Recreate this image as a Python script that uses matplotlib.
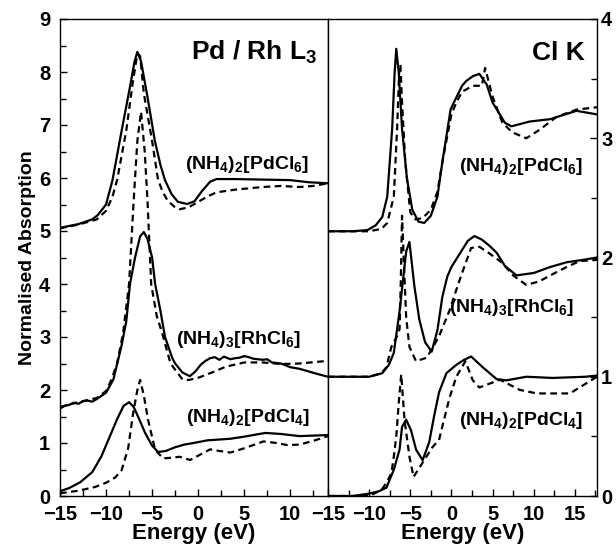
import numpy as np
import matplotlib
matplotlib.use("Agg")
import matplotlib.pyplot as plt
from matplotlib.ticker import MultipleLocator

plt.rcParams["font.family"] = ["Liberation Sans", "DejaVu Sans"]
plt.rcParams["font.weight"] = "bold"
plt.rcParams["mathtext.fontset"] = "custom"
plt.rcParams["mathtext.rm"] = "Liberation Sans:bold"
plt.rcParams["mathtext.default"] = "rm"

# ---- Pd / Rh L3 edge (left panel) ----
l_pd6_exp_e = [-15, -13, -11.5, -10.9, -10, -9.3, -8.3, -7.4, -6.9, -6.6, -6.2, -5.5, -4.7,
               -4.1, -3.6, -2.9, -2.2, -1.2, -0.4, 0.4, 1.3, 2, 4, 7, 10, 12, 14.1]
l_pd6_exp_a = [5.06, 5.13, 5.22, 5.3, 5.5, 5.96, 6.9, 7.72, 8.2, 8.38, 8.2, 7.53, 6.7,
               6.25, 5.96, 5.7, 5.55, 5.51, 5.56, 5.75, 5.93, 5.98, 5.98, 5.97, 5.96, 5.92, 5.9]
l_pd6_th_e = [-15, -13, -11, -10, -9.3, -8.8, -7.8, -7.1, -6.6, -6.3, -5.9, -5.0, -4.35,
              -3.8, -3.3, -2.6, -2.0, -1, 0, 1, 2, 4, 7, 9, 11, 12.5, 14.1]
l_pd6_th_a = [5.05, 5.12, 5.22, 5.38, 5.65, 5.96, 6.9, 7.8, 8.35, 8.3, 7.6, 6.7, 5.96,
              5.72, 5.57, 5.46, 5.41, 5.45, 5.55, 5.65, 5.73, 5.78, 5.83, 5.85, 5.83, 5.85, 5.9]

l_rh6_exp_e = [-15, -14.5, -14, -13.5, -13, -12.5, -12, -11.5, -11, -10, -9.2, -8.3, -7.8,
               -7.4, -6.85, -6.3, -5.9, -5.5, -5.0, -4.67, -4.1, -3.6, -2.8, -2.5, -1.7,
               -0.9, -0.3, 0.3, 0.8, 1.3, 1.8, 2.3, 2.8, 3.5, 4.0, 4.5, 5.0, 5.5, 6.0, 7,
               7.5, 8, 9, 10, 11, 12, 13, 14.1]
l_rh6_exp_a = [1.65, 1.7, 1.72, 1.76, 1.74, 1.79, 1.8, 1.78, 1.83, 1.95, 2.2, 2.85, 3.3,
               4.0, 4.5, 4.9, 4.98, 4.85, 4.5, 4.0, 3.5, 3.0, 2.6, 2.5, 2.33,
               2.26, 2.35, 2.48, 2.55, 2.6, 2.62, 2.57, 2.63, 2.58, 2.6, 2.61, 2.64, 2.62, 2.59,
               2.57, 2.58, 2.52, 2.5, 2.43, 2.4, 2.35, 2.3, 2.25]
l_rh6_th_e = [-15, -13, -11, -10, -9.4, -8.8, -8.15, -7.5, -7.0, -6.6, -6.2, -5.8, -5.5,
              -5.1, -4.5, -3.9, -3.0, -1.7, -1.0, 0, 1.5, 3, 5, 7, 9, 11, 14.1]
l_rh6_th_a = [1.68, 1.77, 1.85, 1.98, 2.2, 2.5, 3.07, 4.0, 5.58, 6.7, 7.25, 6.5, 5.58,
              4.0, 3.4, 3.07, 2.5, 2.2, 2.19, 2.23, 2.33, 2.44, 2.52, 2.52, 2.49, 2.5, 2.55]

l_pd4_exp_e = [-15, -14, -12.8, -11.5, -10.5, -9.6, -8.8, -8.1, -7.5, -7.0, -6.4, -5.76,
               -5.0, -4.35, -3.5, -2.5, -1.5, -0.5, 1, 3.5, 5, 7.3, 9, 11, 14.1]
l_pd4_exp_a = [0.09, 0.15, 0.26, 0.45, 0.75, 1.12, 1.45, 1.7, 1.77, 1.68, 1.45, 1.19,
               0.95, 0.83, 0.85, 0.92, 0.97, 1.0, 1.05, 1.08, 1.12, 1.19, 1.17, 1.13, 1.15]
l_pd4_th_e = [-15, -13, -11.2, -10, -9, -8.3, -7.6, -7.06, -6.6, -6.3, -5.9, -5.43, -4.67,
              -3.8, -3.0, -2.0, -0.87, 0, 1.3, 2.3, 3.5, 5, 7.1, 8.5, 9.7, 11, 12.5, 14.1]
l_pd4_th_a = [0.05, 0.1, 0.17, 0.25, 0.35, 0.49, 0.9, 1.56, 2.0, 2.19, 1.9, 1.43, 0.87,
              0.71, 0.72, 0.74, 0.68, 0.76, 0.88, 0.85, 0.82, 0.9, 1.03, 1.0, 0.96, 0.97,
              1.04, 1.13]

# ---- Cl K edge (right panel) ----
r_pd6_exp_e = [-15, -12, -10.2, -9.2, -8.4, -7.8, -7.2, -6.9, -6.7, -6.4, -6.0, -5.4, -4.75,
               -4.0, -3.3, -2.5, -1.7, -1.1, -0.1, 0.3, 1.3, 1.8, 2.6, 3.4, 4.3, 5.0, 6.5,
               7.3, 9.5, 12, 15.2, 17.7]
r_pd6_exp_a = [2.22, 2.22, 2.23, 2.27, 2.34, 2.51, 3.08, 3.55, 3.75, 3.55, 3.08, 2.66, 2.4,
               2.3, 2.29, 2.35, 2.51, 2.8, 3.24, 3.3, 3.44, 3.48, 3.52, 3.54, 3.45, 3.3, 3.13,
               3.1, 3.14, 3.16, 3.23, 3.2]
r_pd6_th_e = [-15, -10, -8.5, -7.8, -7.0, -6.6, -6.35, -6.2, -6.0, -5.6, -5.0, -4.4, -3.5,
              -2.5, -1.7, -1.1, 0, 0.6, 1.3, 2.6, 3.7, 4.1, 5.0, 6.2, 7.4, 9.1, 10.7, 12.8,
              15.2, 17.7]
r_pd6_th_a = [2.22, 2.22, 2.24, 2.29, 2.51, 3.08, 3.55, 3.62, 3.3, 2.8, 2.38, 2.32, 2.33,
              2.4, 2.55, 2.8, 3.2, 3.3, 3.39, 3.44, 3.44, 3.59, 3.35, 3.13, 3.05, 3.0, 3.07,
              3.18, 3.24, 3.26]

r_rh6_exp_e = [-15, -10, -8.4, -7.6, -7.0, -6.6, -6.3, -5.9, -5.5, -5.1, -4.5, -3.9, -3.2,
               -2.4, -1.7, -1.1, -0.5, 0, 1.0, 2.0, 2.8, 3.7, 4.6, 5.5, 6.5, 7.9, 10, 12, 14,
               16, 17.7]
r_rh6_exp_a = [1.0, 1.0, 1.03, 1.1, 1.2, 1.4, 1.55, 1.8, 2.05, 2.13, 1.76, 1.48, 1.29,
               1.21, 1.39, 1.67, 1.84, 1.92, 2.03, 2.14, 2.18, 2.15, 2.1, 2.04, 1.93, 1.85,
               1.87, 1.92, 1.96, 1.98, 2.0]
r_rh6_th_e = [-15, -10, -8.5, -7.9, -7.3, -6.6, -6.3, -6.15, -6.0, -5.8, -5.5, -5.1, -4.3,
              -3.0, -2.3, -1.5, -0.2, 0.6, 1.3, 2.4, 3.4, 4.5, 6.1, 7.5, 9.1, 10.7, 12.3,
              14, 15.6, 17.7]
r_rh6_th_a = [1.0, 1.0, 1.03, 1.08, 1.25, 1.34, 1.4, 1.8, 2.35, 2.0, 1.5, 1.25, 1.13,
              1.16, 1.24, 1.34, 1.56, 1.73, 1.87, 2.08, 2.09, 2.04, 1.96, 1.85, 1.77, 1.8,
              1.86, 1.92, 1.97, 1.98]

r_pd4_exp_e = [-15, -12, -10, -8.8, -7.9, -7.0, -6.3, -6.0, -5.5, -4.9, -4.3, -3.5, -2.7,
               -2.1, -1.5, -0.6, 0.6, 1.5, 2.4, 3.8, 5.5, 6.7, 9.1, 12.3, 16.3, 17.7]
r_pd4_exp_a = [0.0, 0.0, 0.02, 0.04, 0.07, 0.22, 0.39, 0.58, 0.64, 0.55, 0.39, 0.3, 0.45,
               0.67, 0.87, 1.03, 1.1, 1.14, 1.17, 1.08, 0.98, 0.97, 1.0, 0.99, 1.0, 1.01]
r_pd4_th_e = [-15, -10, -8.5, -7.9, -7.3, -7.0, -6.7, -6.4, -6.1, -5.7, -5.1, -4.6, -3.5,
              -2.3, -1.5, -0.9, -0.2, 0.6, 1.7, 2.6, 3.4, 5.9, 8.3, 10.4, 14.4, 17.7]
r_pd4_th_a = [0.0, 0.0, 0.05, 0.11, 0.19, 0.33, 0.5, 0.78, 1.02, 0.64, 0.33, 0.16, 0.28,
              0.41, 0.47, 0.64, 0.83, 1.0, 1.13, 0.97, 0.91, 0.975, 0.89, 0.86, 0.86, 1.0]

LW = 1.6
DASH = (3, 2)

fig = plt.figure(figsize=(6.16, 5.5), dpi=100)
ax1 = fig.add_axes([60 / 616, 54 / 550, 268 / 616, 477 / 550])
ax2 = fig.add_axes([328 / 616, 54 / 550, 269 / 616, 477 / 550])

for e, a in [(l_pd6_exp_e, l_pd6_exp_a), (l_rh6_exp_e, l_rh6_exp_a), (l_pd4_exp_e, l_pd4_exp_a)]:
    ax1.plot(e, a, color="black", lw=LW)
for e, a in [(l_pd6_th_e, l_pd6_th_a), (l_rh6_th_e, l_rh6_th_a), (l_pd4_th_e, l_pd4_th_a)]:
    ax1.plot(e, a, color="black", lw=LW, ls=(0, DASH))
for e, a in [(r_pd6_exp_e, r_pd6_exp_a), (r_rh6_exp_e, r_rh6_exp_a), (r_pd4_exp_e, r_pd4_exp_a)]:
    ax2.plot(e, a, color="black", lw=LW)
for e, a in [(r_pd6_th_e, r_pd6_th_a), (r_rh6_th_e, r_rh6_th_a), (r_pd4_th_e, r_pd4_th_a)]:
    ax2.plot(e, a, color="black", lw=LW, ls=(0, DASH))

ax1.set_xlim(-15, 14.1)
ax1.set_ylim(0, 9)
ax2.set_xlim(-15, 17.7)
ax2.set_ylim(0, 4)

for ax in (ax1, ax2):
    ax.xaxis.set_major_locator(MultipleLocator(5))
    ax.xaxis.set_minor_locator(MultipleLocator(2.5))
    ax.yaxis.set_minor_locator(MultipleLocator(0.5))
    ax.yaxis.set_major_locator(MultipleLocator(1))
    ax.tick_params(which="both", direction="in", labelsize=14.5, width=1)
    ax.tick_params(which="major", length=5)
    ax.tick_params(which="minor", length=4)
    ax.set_xlabel("Energy (eV)", fontsize=16, fontweight="bold", labelpad=-1)
    for s in ax.spines.values():
        s.set_linewidth(1.0)

ax1.tick_params(axis="y", which="both", left=True, right=False, pad=7)
ax1.tick_params(axis="x", pad=6.5)
ax1.set_ylabel("Normalised Absorption", fontsize=14, fontweight="bold", labelpad=2)

ax2.tick_params(axis="y", which="both", left=False, right=True, labelleft=False,
                labelright=True, pad=3)
ax2.tick_params(axis="x", pad=6.5)

# y labels sit a touch higher so "0" clears the "-15" below it
plt.setp(ax1.get_yticklabels(), va="center_baseline")
plt.setp(ax2.get_yticklabels(), va="center_baseline")

tk = dict(fontsize=14, fontweight="bold", ha="center", va="center")
ax1.text(0.959, 0.929, r"Pd / Rh L$_3$", transform=ax1.transAxes, fontsize=19,
         fontweight="bold", ha="right", va="center")
ax1.text(0.698, 0.694, r"(NH$_4$)$_2$[PdCl$_6$]", transform=ax1.transAxes, **tk)
ax1.text(0.668, 0.329, r"(NH$_4$)$_3$[RhCl$_6$]", transform=ax1.transAxes, **tk)
ax1.text(0.701, 0.164, r"(NH$_4$)$_2$[PdCl$_4$]", transform=ax1.transAxes, **tk)

ax2.text(0.955, 0.929, "Cl K", transform=ax2.transAxes, fontsize=19,
         fontweight="bold", ha="right", va="center")
ax2.text(0.717, 0.690, r"(NH$_4$)$_2$[PdCl$_6$]", transform=ax2.transAxes, **tk)
ax2.text(0.684, 0.396, r"(NH$_4$)$_3$[RhCl$_6$]", transform=ax2.transAxes, **tk)
ax2.text(0.717, 0.159, r"(NH$_4$)$_2$[PdCl$_4$]", transform=ax2.transAxes, **tk)

fig.savefig("out.png", dpi=100)
